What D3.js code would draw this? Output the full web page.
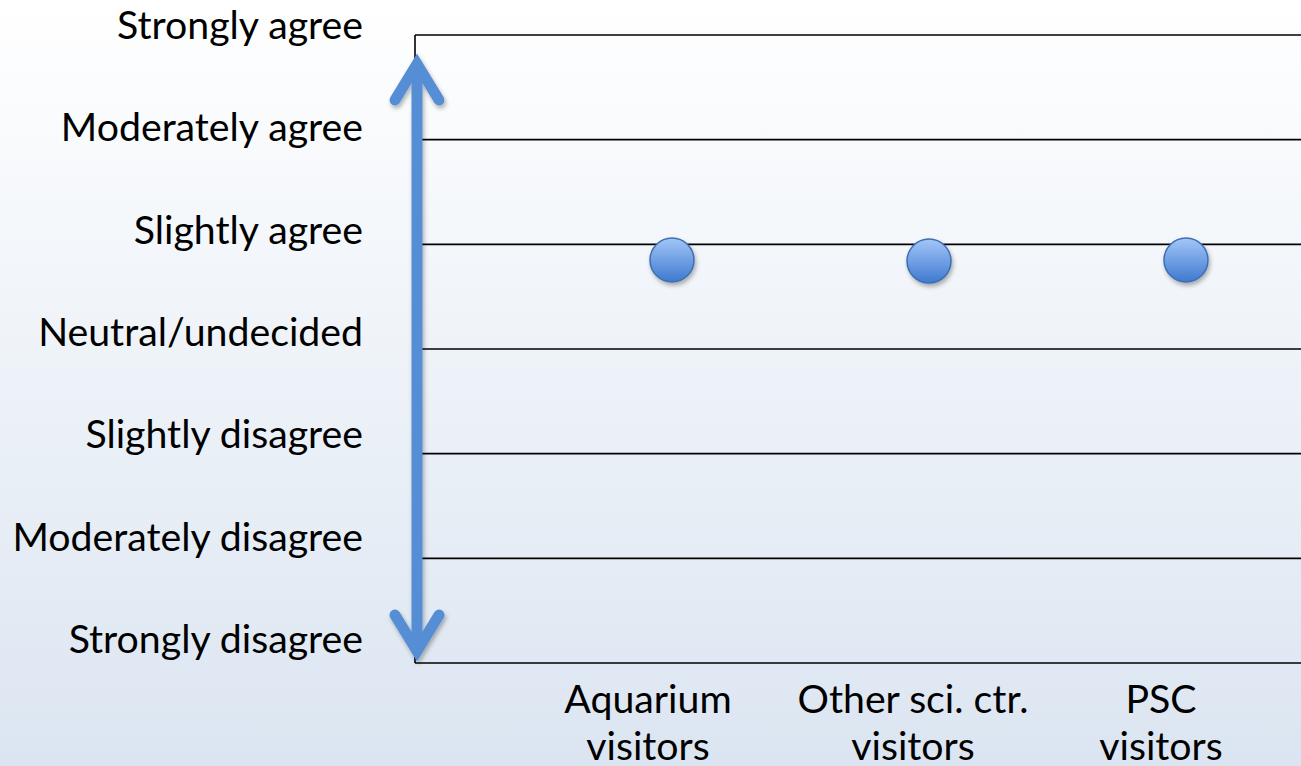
<!DOCTYPE html>
<html>
<head>
<meta charset="utf-8">
<script src="https://cdn.jsdelivr.net/npm/d3@7"></script>
<style>
  html, body { margin: 0; padding: 0; overflow: hidden; }
  svg { display: block; }
</style>
</head>
<body>
<svg id="chart" width="1301" height="766"></svg>
<script>
// ---- data ----
const levels = ["Strongly disagree", "Moderately disagree", "Slightly disagree",
                "Neutral/undecided", "Slightly agree", "Moderately agree", "Strongly agree"];
const categories = ["Aquarium visitors", "Other sci. ctr. visitors", "PSC visitors"];
const means = [4.85, 4.84, 4.85];

// ---- layout ----
const W = 1301, H = 766;
const svg = d3.select("#chart");
const FONT = "Lato, 'Open Sans', 'DejaVu Sans', sans-serif";

const defs = svg.append("defs");
const bg = defs.append("linearGradient").attr("id", "bg").attr("x1", 0).attr("y1", 0).attr("x2", 0).attr("y2", 1);
bg.append("stop").attr("offset", "0%").attr("stop-color", "#ffffff");
bg.append("stop").attr("offset", "100%").attr("stop-color", "#dbe5f1");

const dot = defs.append("linearGradient").attr("id", "dot").attr("x1", 0).attr("y1", 0).attr("x2", 0).attr("y2", 1);
dot.append("stop").attr("offset", "0%").attr("stop-color", "#a3c6f8");
dot.append("stop").attr("offset", "100%").attr("stop-color", "#3f79cf");

const sh = defs.append("filter").attr("id", "shadow").attr("x", "-50%").attr("y", "-50%").attr("width", "200%").attr("height", "200%");
sh.append("feDropShadow").attr("dx", 1.5).attr("dy", 3).attr("stdDeviation", 2.2)
  .attr("flood-color", "#000").attr("flood-opacity", 0.3);

svg.append("rect").attr("width", W).attr("height", H).attr("fill", "url(#bg)");

const x = d3.scaleLinear().domain([0, 4]).range([415, 1443]);
const y = d3.scaleLinear().domain([1, levels.length]).range([663, 35]);
const yLabel = d3.scaleLinear().domain([1, levels.length]).range([653, 39]);
const xLabel = d3.scaleOrdinal().domain(categories).range([648, 913, 1161]);

// font size calibrated so that label widths match the reference
const probe = svg.append("text").attr("font-family", FONT).attr("font-size", 42).text("Strongly agree");
const measured = probe.node().getComputedTextLength();
probe.remove();
const fs = 42 * 246 / measured;

// gridlines
svg.append("g").selectAll("line")
  .data(d3.range(1, levels.length + 1))
  .join("line")
  .attr("x1", x(0)).attr("x2", W + 5)
  .attr("y1", d => y(d)).attr("y2", d => y(d))
  .attr("stroke", "#000").attr("stroke-width", 1.6);

// left axis line
svg.append("line")
  .attr("x1", x(0)).attr("x2", x(0))
  .attr("y1", y(levels.length)).attr("y2", y(1))
  .attr("stroke", "#000").attr("stroke-width", 1.6);

// y labels
svg.append("g").selectAll("text")
  .data(levels)
  .join("text")
  .attr("x", 363)
  .attr("y", (d, i) => yLabel(i + 1))
  .attr("text-anchor", "end")
  .attr("font-family", FONT).attr("font-size", fs).attr("fill", "#000")
  .text(d => d);

// x labels (two lines)
const xl = svg.append("g").selectAll("text")
  .data(categories)
  .join("text")
  .attr("text-anchor", "middle")
  .attr("font-family", FONT).attr("font-size", fs).attr("fill", "#000");
xl.each(function(d) {
  const k = d.lastIndexOf(" ");
  const lines = [d.slice(0, k), d.slice(k + 1)];
  d3.select(this).selectAll("tspan").data(lines).join("tspan")
    .attr("x", xLabel(d))
    .attr("y", (t, j) => 713 + j * 47)
    .text(t => t);
});

// double arrow
const ax = x(0) + 2;
const arrow = svg.append("g").attr("filter", "url(#shadow)")
  .attr("fill", "none").attr("stroke", "#568ed6").attr("stroke-width", 11)
  .attr("stroke-linecap", "round").attr("stroke-linejoin", "miter").attr("stroke-miterlimit", 10);
const topV = y(levels.length) + 29, botV = y(1) - 12;
arrow.append("line").attr("x1", ax).attr("x2", ax).attr("y1", topV).attr("y2", botV).attr("stroke-linecap", "butt");
arrow.append("path").attr("d", `M${ax - 22},${topV + 36} L${ax},${topV} L${ax + 22},${topV + 36}`);
arrow.append("path").attr("d", `M${ax - 22},${botV - 36} L${ax},${botV} L${ax + 22},${botV - 36}`);

// points
svg.append("g").selectAll("circle")
  .data(means)
  .join("circle")
  .attr("cx", (d, i) => x(i + 1))
  .attr("cy", d => y(d))
  .attr("r", 22)
  .attr("fill", "url(#dot)")
  .attr("stroke", "#3e6fb3").attr("stroke-width", 1.5)
  .attr("filter", "url(#shadow)");
</script>
</body>
</html>
